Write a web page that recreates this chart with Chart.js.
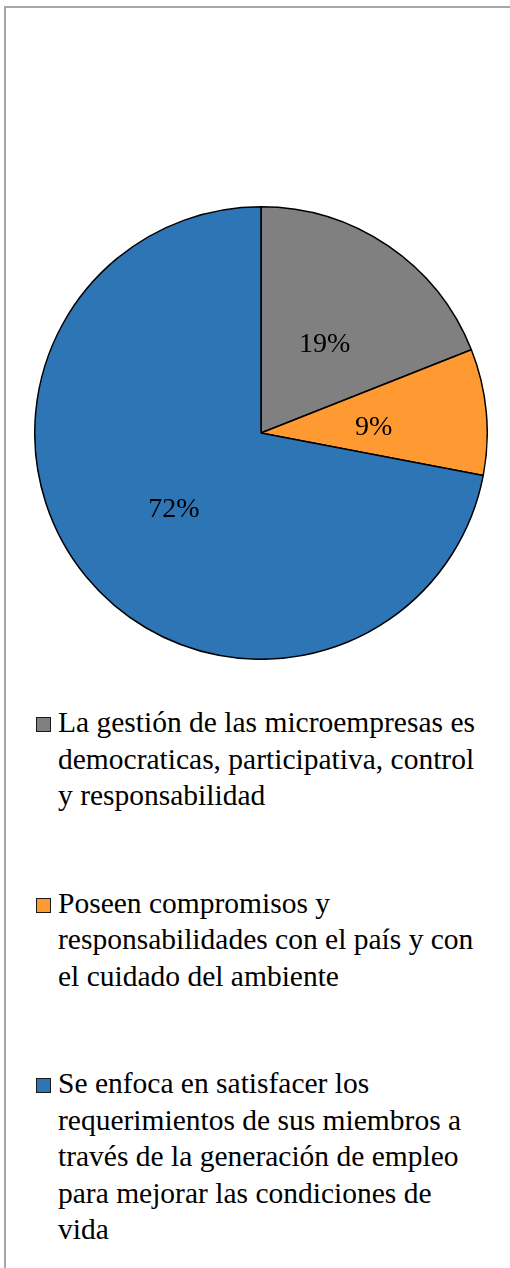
<!DOCTYPE html>
<html>
<head>
<meta charset="utf-8">
<script src="https://cdn.jsdelivr.net/npm/chart.js@4.4.1/dist/chart.umd.min.js"></script>
<style>
    html, body { margin: 0; padding: 0; background: #fff; }
    body { width: 510px; height: 1268px; position: relative; overflow: hidden; font-family: "Liberation Serif", "Times New Roman", serif; }
    .frame { position: absolute; left: 4px; top: 6px; width: 620px; height: 1300px; border: 2px solid #a6a6a6; box-sizing: border-box; }
    .pie-box { position: absolute; left: 34px; top: 206px; width: 454px; height: 454px; }
    #legend { position: absolute; left: 36px; top: 704px; width: 444px; margin: 0; padding: 0; list-style: none; }
    #legend li { position: relative; padding-left: 22px; font-size: 29.5px; line-height: 36.5px; color: #000; margin-bottom: 71px; }
    #legend li span { position: absolute; left: 0; top: 13px; width: 13px; height: 13px; border: 1px solid #1a1a1a; }
</style>
</head>
<body>
<div class="frame"></div>
<div class="pie-box"><canvas id="chart"></canvas></div>
<ul id="legend"></ul>
<script>
const labels = [
    "La gestión de las microempresas es democraticas, participativa, control y responsabilidad",
    "Poseen compromisos y responsabilidades con el país y con el cuidado del ambiente",
    "Se enfoca en satisfacer los requerimientos de sus miembros a través de la generación de empleo para mejorar las condiciones de vida",
];
const values = [19, 9, 72];
const colors = ["#808080", "#FF9A33", "#2E75B6"];

// percentages in the middle of each slice
const sliceLabels = {
    id: "sliceLabels",
    afterDatasetsDraw(chart) {
        const { ctx } = chart;
        const meta = chart.getDatasetMeta(0);
        const data = chart.data.datasets[0].data;
        const total = data.reduce((a, b) => a + b, 0);
        ctx.save();
        ctx.font = '28px "Liberation Serif", "Times New Roman", serif';
        ctx.fillStyle = "#000";
        ctx.textAlign = "center";
        ctx.textBaseline = "middle";
        meta.data.forEach((arc, i) => {
            const pos = arc.tooltipPosition();
            // text sits a little low in the original
            ctx.fillText(Math.round((data[i] / total) * 100) + "%", pos.x, pos.y + 5);
        });
        ctx.restore();
    },
};

// legend is html so the long labels can wrap
const htmlLegend = {
    id: "htmlLegend",
    afterUpdate(chart) {
        const list = document.getElementById("legend");
        list.innerHTML = "";
        const ds = chart.data.datasets[0];
        chart.data.labels.forEach((label, i) => {
            const li = document.createElement("li");
            const box = document.createElement("span");
            box.style.background = ds.backgroundColor[i];
            li.appendChild(box);
            li.appendChild(document.createTextNode(label));
            list.appendChild(li);
        });
    },
};

new Chart(document.getElementById("chart"), {
    type: "pie",
    data: {
        labels,
        datasets: [{
            data: values,
            backgroundColor: colors,
            borderColor: "#000",
            borderWidth: 1.5,
        }],
    },
    options: {
        responsive: true,
        maintainAspectRatio: false,
        animation: false,
        layout: { padding: 0 },
        plugins: {
            legend: { display: false },
            tooltip: { enabled: false },
        },
    },
    plugins: [sliceLabels, htmlLegend],
});
</script>
</body>
</html>
